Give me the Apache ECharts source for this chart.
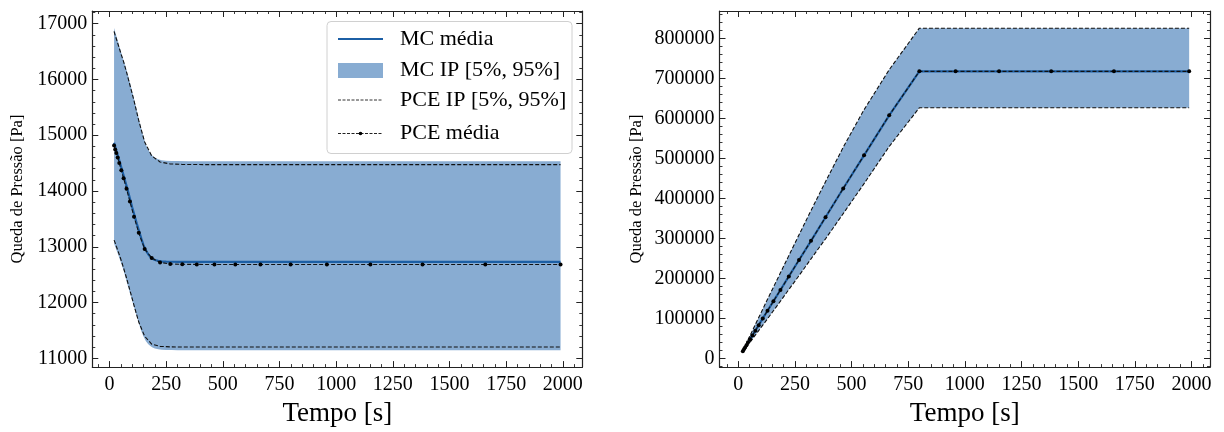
<!DOCTYPE html>
<html>
<head>
<meta charset="utf-8">
<script src="https://cdn.jsdelivr.net/npm/echarts@6/dist/echarts.min.js"></script>
<style>
  html, body { margin: 0; padding: 0; background: #fff; }
  #chart { width: 1224px; height: 432px; }
</style>
</head>
<body>
<div id="chart"></div>
<script>
// Time samples of the PCE evaluation [s]
const tPCE = [20, 25, 30, 36, 43, 52, 62, 75, 90, 108, 129, 155, 186, 223, 268, 321, 385, 463, 555, 666, 799, 959, 1151, 1381, 1658, 1990];

// Left panel: MC reference curves (denser sampling) [Pa]
const tMC = [20, 40, 60, 80, 100, 120, 140, 150, 160, 170, 180, 190, 200, 215, 230, 250, 275, 300, 350, 400, 600, 900, 1200, 1500, 1800, 1990];
const mcMeanL = [14865, 14590, 14310, 14020, 13710, 13420, 13150, 13030, 12940, 12870, 12820, 12785, 12763, 12748, 12740, 12735, 12732, 12731, 12730, 12730, 12730, 12730, 12730, 12730, 12730, 12730];
const mcHiL = [16920, 16640, 16370, 16100, 15790, 15450, 15120, 14970, 14840, 14745, 14680, 14630, 14598, 14570, 14553, 14543, 14538, 14536, 14535, 14535, 14535, 14535, 14535, 14535, 14535, 14535];
const mcLoL = [13060, 12840, 12600, 12310, 12030, 11750, 11490, 11390, 11310, 11255, 11220, 11195, 11178, 11163, 11155, 11150, 11148, 11147, 11147, 11147, 11147, 11147, 11147, 11147, 11147, 11147];

// Left panel: PCE curves [Pa]
const pceMeanL = [14815, 14745, 14680, 14600, 14500, 14370, 14230, 14040, 13810, 13540, 13250, 12960, 12800, 12720, 12692, 12686, 12684, 12683, 12683, 12683, 12683, 12683, 12683, 12683, 12683, 12683];
const pceHiL = [16860, 16790, 16730, 16650, 16560, 16440, 16320, 16130, 15900, 15620, 15260, 14880, 14630, 14520, 14485, 14476, 14474, 14473, 14473, 14473, 14473, 14473, 14473, 14473, 14473, 14473];
const pceLoL = [13120, 13070, 13010, 12940, 12860, 12750, 12620, 12440, 12220, 11950, 11650, 11395, 11255, 11215, 11205, 11203, 11202, 11202, 11202, 11202, 11202, 11202, 11202, 11202, 11202, 11202];

// Right panel: curves on the PCE time samples [Pa]; MC and PCE bounds coincide here
const meanR = [18000, 22500, 27000, 33000, 40000, 48000, 57000, 69000, 83000, 100000, 119000, 143000, 171000, 205000, 246000, 294000, 353000, 425000, 508000, 608000, 718000, 718000, 718000, 718000, 718000, 718000];
const hiR = [19000, 25000, 31000, 38000, 46500, 57000, 69000, 84500, 102000, 123000, 148000, 178000, 214000, 257000, 309000, 370000, 442000, 528000, 622000, 722000, 826000, 826000, 826000, 826000, 826000, 826000];
const loR = [17000, 20500, 24000, 28500, 34000, 40500, 48000, 58000, 69500, 83000, 99000, 119000, 143000, 172000, 207000, 249000, 299000, 362000, 437000, 530000, 627000, 627000, 627000, 627000, 627000, 627000];

// Axis labels and legend entries
const xTitle = 'Tempo [s]';
const yTitle = 'Queda de Pressão [Pa]';
const legendNames = ['MC média', 'MC IP [5%, 95%]', 'PCE IP [5%, 95%]', 'PCE média'];

const FONT = 'Liberation Serif';
const BAND = '#88acd2';
const MEAN_BLUE = '#1c5fa5';
const DASH = [4, 2];

const zip = (xs, ys) => xs.map((x, i) => [x, ys[i]]);

function axisCommon(gridIndex, min, max, step) {
  return {
    type: 'value', gridIndex, min, max,
    minInterval: step, maxInterval: step, splitNumber: 8,
    splitLine: { show: false },
    axisLine: { show: true, onZero: false, lineStyle: { color: '#222', width: 1.2 } },
    axisTick: { show: true, inside: true, length: 6, lineStyle: { color: '#222', width: 1 } },
    minorTick: { show: true, splitNumber: 5, length: 3, lineStyle: { color: '#222', width: 0.9 } },
    minorSplitLine: { show: false }
  };
}

function labelled(ax, extra) {
  return Object.assign(ax, {
    axisLabel: {
      show: true, fontFamily: FONT, fontSize: 20, color: '#000',
      showMinLabel: false, showMaxLabel: false,
      formatter: v => String(v)
    }
  }, extra);
}

function mirror(ax, position) {
  return Object.assign(ax, { position, axisLabel: { show: false } });
}

function xPair(g, min, max) {
  return [
    labelled(axisCommon(g, min, max, 250), {
      position: 'bottom', name: xTitle, nameLocation: 'middle', nameGap: 22,
      nameTextStyle: { fontFamily: FONT, fontSize: 27, color: '#000' }
    }),
    mirror(axisCommon(g, min, max, 250), 'top')
  ];
}

function yPair(g, min, max, step, gap) {
  const lab = labelled(axisCommon(g, min, max, step), {
    position: 'left', name: yTitle, nameLocation: 'middle', nameGap: gap, nameRotate: 90,
    nameTextStyle: { fontFamily: FONT, fontSize: 16.5, color: '#000' }
  });
  lab.axisLabel.margin = 5;
  return [lab, mirror(axisCommon(g, min, max, step), 'right')];
}

// Filled band between a lower and upper curve, drawn as one polygon
function bandSeries(xi, yi, ts, lo, hi) {
  return {
    type: 'custom', xAxisIndex: xi, yAxisIndex: yi, z: 1, silent: true,
    data: ts.map((t, i) => [t, lo[i], hi[i]]),
    encode: { x: 0, y: [1, 2] },
    renderItem: (params, api) => {
      if (params.dataIndex !== 0) return null;
      const pts = [];
      for (let i = 0; i < ts.length; i++) pts.push(api.coord([ts[i], hi[i]]));
      for (let i = ts.length - 1; i >= 0; i--) pts.push(api.coord([ts[i], lo[i]]));
      return { type: 'polygon', shape: { points: pts }, style: { fill: BAND, stroke: null } };
    }
  };
}

function lineSeries(xi, yi, data, opts) {
  return Object.assign({
    type: 'line', xAxisIndex: xi, yAxisIndex: yi, data,
    showSymbol: false, silent: true, animation: false,
    lineStyle: { color: '#111', width: 1.1, type: DASH }
  }, opts);
}

function meanSeries(xi, yi, ts, vals) {
  return lineSeries(xi, yi, zip(ts, vals), {
    z: 4, showSymbol: true, symbol: 'circle', symbolSize: 4,
    itemStyle: { color: '#000' }
  });
}

function panelSeries(xi, yi, bandT, bandLo, bandHi, mcT, mcMean, pT, pMean, pLo, pHi) {
  return [
    bandSeries(xi, yi, bandT, bandLo, bandHi),
    lineSeries(xi, yi, zip(mcT, mcMean), { z: 2, lineStyle: { color: MEAN_BLUE, width: 2.2, type: 'solid' } }),
    lineSeries(xi, yi, zip(pT, pHi), { z: 3 }),
    lineSeries(xi, yi, zip(pT, pLo), { z: 3 }),
    meanSeries(xi, yi, pT, pMean)
  ];
}

// Legend drawn in the upper-right corner of the left panel
function legendGraphic() {
  const x0 = 338, x1 = 383, tx = 400;
  const rows = [39, 70.5, 100, 133.5];
  const txt = (y, s) => ({
    type: 'text', x: tx, y,
    style: { text: s, fontFamily: FONT, fontSize: 22, fill: '#000', verticalAlign: 'middle', align: 'left' }
  });
  return [{
    type: 'group', z: 100,
    children: [
      { type: 'rect', shape: { x: 327, y: 21.5, width: 245, height: 132, r: 4 },
        style: { fill: 'rgba(255,255,255,0.85)', stroke: '#d0d0d0', lineWidth: 1 } },
      { type: 'line', shape: { x1: x0, y1: rows[0], x2: x1, y2: rows[0] }, style: { stroke: MEAN_BLUE, lineWidth: 2 } },
      txt(rows[0], legendNames[0]),
      { type: 'rect', shape: { x: x0, y: rows[1] - 7.5, width: x1 - x0, height: 15 }, style: { fill: BAND } },
      txt(rows[1], legendNames[1]),
      { type: 'line', shape: { x1: x0, y1: rows[2], x2: x1, y2: rows[2] }, style: { stroke: '#333', lineWidth: 1, lineDash: [3, 1.5] } },
      txt(rows[2], legendNames[2]),
      { type: 'line', shape: { x1: x0, y1: rows[3], x2: x1, y2: rows[3] }, style: { stroke: '#222', lineWidth: 1, lineDash: [3, 1.5] } },
      { type: 'circle', shape: { cx: (x0 + x1) / 2, cy: rows[3], r: 1.8 }, style: { fill: '#000' } },
      txt(rows[3], legendNames[3])
    ]
  }];
}

const chart = echarts.init(document.getElementById('chart'), null, { renderer: 'canvas' });
const [xb0, xt0] = xPair(0, -76, 2086);
const [xb1, xt1] = xPair(1, -83, 2082);
const [yl0, yr0] = yPair(0, 10843, 17227, 1000, 66);
const [yl1, yr1] = yPair(1, -21900, 869000, 100000, 74);

chart.setOption({
  animation: false,
  backgroundColor: '#fff',
  textStyle: { fontFamily: FONT },
  grid: [
    { left: 92.3, top: 11, width: 490, height: 366.3 },
    { left: 719.5, top: 11, width: 490.5, height: 366.3 }
  ],
  xAxis: [xb0, xt0, xb1, xt1],
  yAxis: [yl0, yr0, yl1, yr1],
  series: [
    ...panelSeries(0, 0, tMC, mcLoL, mcHiL, tMC, mcMeanL, tPCE, pceMeanL, pceLoL, pceHiL),
    ...panelSeries(2, 2, tPCE, loR, hiR, tPCE, meanR, tPCE, meanR, loR, hiR)
  ],
  graphic: legendGraphic()
});
</script>
</body>
</html>
